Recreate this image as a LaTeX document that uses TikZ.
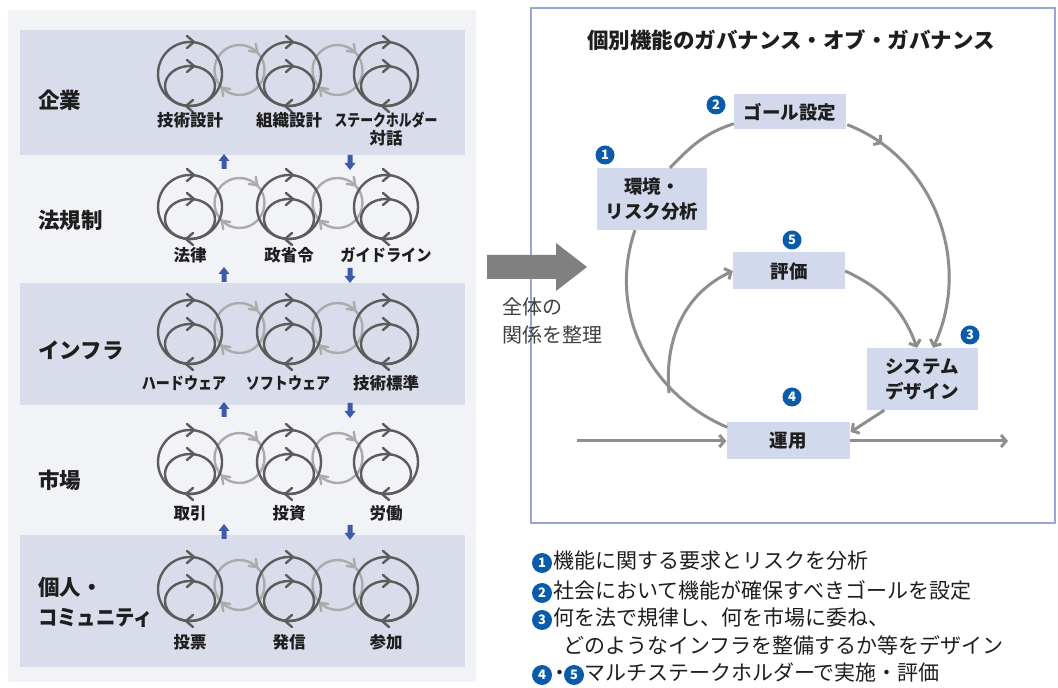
\documentclass[tikz,border=0pt]{standalone}
\usepackage{fontspec}
\newfontfamily\jp{Noto Sans CJK JP}
\usetikzlibrary{arrows.meta,calc,decorations.markings}
\definecolor{icondark}{HTML}{5C5C5C}
\definecolor{iconlight}{HTML}{ABABAB}
\definecolor{bandfill}{HTML}{D9DDEB}
\definecolor{panelbg}{HTML}{F2F3F7}
\definecolor{linegray}{HTML}{8E8E8E}
\definecolor{boxfill}{HTML}{D3D9EC}
\definecolor{numblue}{HTML}{0A5BAA}
\definecolor{arrowblue}{HTML}{3D5BA9}
\definecolor{bigarrow}{HTML}{808080}
\definecolor{framecol}{HTML}{97A6D6}
\definecolor{txt}{HTML}{1E1E1E}
\newcommand{\myicon}[2]{%
  \draw[dk] (#1,#2) circle[radius=32];
  \draw[dk] (#1,#2-12) ellipse[x radius=25,y radius=20];
  \draw[dk] (#1-3,#2+38) -- (#1+4,#2+32) -- (#1-3,#2+26);
  \draw[dk] (#1-3,#2+14) -- (#1+4,#2+8) -- (#1-3,#2+2);
  \draw[dk] (#1+3,#2-26) -- (#1-4,#2-32) -- (#1+3,#2-38);
}
\newcommand{\mylink}[2]{%
  \draw[lt] (#1,#2+4) circle[radius=25];
  \draw[lt] (#1+17.7-1.4,#2+21.7+8.5) -- (#1+17.7,#2+21.7) -- (#1+17.7-8.5,#2+21.7+1.4);
  \draw[lt] (#1-17.7+8.5,#2-13.7-1.4) -- (#1-17.7,#2-13.7) -- (#1-17.7+1.4,#2-13.7-8.5);
}
\newcommand{\uparr}[2]{%
  \fill[arrowblue] (#1-2.5,#2-7) -- (#1-2.5,#2+1) -- (#1-5.5,#2+1) -- (#1,#2+8) -- (#1+5.5,#2+1) -- (#1+2.5,#2+1) -- (#1+2.5,#2-7) -- cycle;
}
\newcommand{\downarr}[2]{%
  \fill[arrowblue] (#1-2.5,#2+7) -- (#1-2.5,#2-1) -- (#1-5.5,#2-1) -- (#1,#2-8) -- (#1+5.5,#2-1) -- (#1+2.5,#2-1) -- (#1+2.5,#2+7) -- cycle;
}
\begin{document}
\begin{tikzpicture}[x=1pt,y=1pt,
  dk/.style={draw=icondark, line width=2.4pt, line cap=round, line join=round},
  lt/.style={draw=iconlight, line width=2.4pt, line cap=round, line join=round},
  gl/.style={draw=linegray, line width=3pt},
  tipb/.style={-{Straight Barb[length=5pt,width=12pt]}},
  lab/.style={font=\jp\bfseries\fontsize{16.5}{19}\selectfont, text=txt, inner sep=0},
  narrow/.style={xscale=#1, transform shape},
  rowlab/.style={font=\jp\bfseries\fontsize{21.5}{24}\selectfont, text=txt, inner sep=0, anchor=west},
  gbox/.style={fill=boxfill, font=\jp\bfseries\fontsize{18.5}{25}\selectfont, text=txt, align=center, inner sep=0},
  num/.style={circle, fill=numblue, text=white, minimum size=19pt, inner sep=0, font=\jp\bfseries\fontsize{13}{13}\selectfont},
  leg/.style={font=\jp\fontsize{21}{24}\selectfont, text=txt, inner sep=0, anchor=west, text height=15pt, text depth=4pt}
]
\useasboundingbox (0,0) rectangle (1058,688);
\fill[white] (0,0) rectangle (1058,688);
% ---------- left panel ----------
\fill[panelbg] (8,6) rectangle (476,678);
\fill[bandfill] (20,533) rectangle (465,658);
\fill[bandfill] (20,283) rectangle (465,405);
\fill[bandfill] (20,21) rectangle (465,153);
\foreach \cy in {614,481,356,226,99} {
  \mylink{239.5}{\cy}
  \mylink{337.5}{\cy}
  \myicon{190}{\cy}
  \myicon{289}{\cy}
  \myicon{386}{\cy}
}
\node[rowlab] (r1) at (38,588) {企業};
\node[rowlab] (r2) at (38,468) {法規制};
\node[rowlab] (r3) at (38,338) {インフラ};
\node[rowlab] (r4) at (38,208) {市場};
\node[rowlab] (r5a) at (38,101) {個人・};
\node[rowlab, narrow=0.9] (r5b) at (38,70) {コミュニティ};
\node[lab] (a1) at (190,568) {技術設計};
\node[lab] (a2) at (289,568) {組織設計};
\node[lab, narrow=0.78] (a3) at (386,568) {ステークホルダー};
\node[lab] (a3b) at (386,550) {対話};
\node[lab] (b1) at (190,433) {法律};
\node[lab] (b2) at (289,433) {政省令};
\node[lab, narrow=0.92] (b3) at (386,433) {ガイドライン};
\node[lab, narrow=0.85] (c1) at (184,305) {ハードウェア};
\node[lab, narrow=0.85] (c2) at (288,305) {ソフトウェア};
\node[lab] (c3) at (386,305) {技術標準};
\node[lab] (d1) at (190,175) {取引};
\node[lab] (d2) at (289,175) {投資};
\node[lab] (d3) at (386,175) {労働};
\node[lab] (e1) at (190,46) {投票};
\node[lab] (e2) at (289,46) {発信};
\node[lab] (e3) at (386,46) {参加};
\foreach \yy in {526,413,278,156} {
  \uparr{224}{\yy}
  \downarr{350}{\yy}
}
% ---------- right panel ----------
\draw[draw=framecol, line width=1.2pt, fill=white] (531,165) rectangle (1055,680);
% ---------- big arrow ----------
\fill[bigarrow] (487,409) -- (556,409) -- (556,397) -- (587,421) -- (556,445) -- (556,433) -- (487,433) -- cycle;
\node[font=\jp\fontsize{20}{24}\selectfont, text=txt!85, anchor=west, inner sep=0] (w1) at (502,381) {全体の};
\node[font=\jp\fontsize{20}{24}\selectfont, text=txt!85, anchor=west, inner sep=0] (w2) at (502,353) {関係を整理};
\node[font=\jp\bfseries\fontsize{21.5}{24}\selectfont, text=txt, inner sep=0] (title) at (791,648) {個別機能のガバナンス・オブ・ガバナンス};
\node[gbox, minimum width=112pt, minimum height=35pt] (goal) at (790,576) {ゴール設定};
\node[gbox, minimum width=110pt, minimum height=62pt] (env) at (652,489) {環境・\\リスク分析};
\node[gbox, minimum width=112pt, minimum height=37pt] (eval) at (789,417) {評価};
\node[gbox, minimum width=111pt, minimum height=62pt] (sys) at (922,309) {システム\\デザイン};
\node[gbox, minimum width=123pt, minimum height=37pt] (ops) at (788,247) {運用};
\node[num] (n1) at (605,533) {1};
\node[num] (n2) at (716,583) {2};
\node[num] (n5) at (792,448) {5};
\node[num] (n3) at (970,353) {3};
\node[num] (n4) at (792,291) {4};
\coordinate (branch) at (669,295);
\coordinate (inL) at (577,247);
\coordinate (outR) at (1008,247);
% connectors
\draw[gl] ($(env.north)+(18,0)$) to[out=46,in=198] ($(goal.south west)+(0,6)$);
\draw[gl, tipb, postaction={decorate, decoration={markings, mark=at position 0.15 with {\arrow{Straight Barb[length=5pt,width=12pt]}}}}]
  ($(goal.south east)+(1,5)$) to[out=-21,in=65] ($(sys.north)+(11,0)$);
\draw[gl, tipb] (eval.east) to[out=-25,in=110] ($(sys.north)+(-5,0)$);
\draw[gl, tipb] ($(sys.south west)+(18,0)$) -- ($(ops.east)+(1,9)$);
\draw[gl] ($(env.south)+(-17,0)$) to[out=251,in=157] ($(ops.north west)+(1,-5)$);
\draw[gl, tipb] (branch) to[out=95,in=205] (eval.west);
\draw[gl, tipb] (inL) -- (ops.west);
\draw[gl, tipb] (ops.east) -- (outR);
% ---------- legend ----------
\node[num, minimum size=20pt] (l1) at (542,125) {1};
\node[leg] (t1) at (553,125) {機能に関する要求とリスクを分析};
\node[num, minimum size=20pt] (l2) at (542,95) {2};
\node[leg] (t2) at (553,95) {社会において機能が確保すべきゴールを設定};
\node[num, minimum size=20pt] (l3) at (542,68) {3};
\node[leg] (t3) at (553,68) {何を法で規律し、何を市場に委ね、};
\node[leg] (t3b) at (563,40) {どのようなインフラを整備するか等をデザイン};
\node[num, minimum size=20pt] (l4) at (542,13) {4};
\node[leg] (dot) at (549,13) {・};
\node[num, minimum size=20pt] (l5) at (574,13) {5};
\node[leg] (t5) at (584,13) {マルチステークホルダーで実施・評価};
\end{tikzpicture}
\end{document}
